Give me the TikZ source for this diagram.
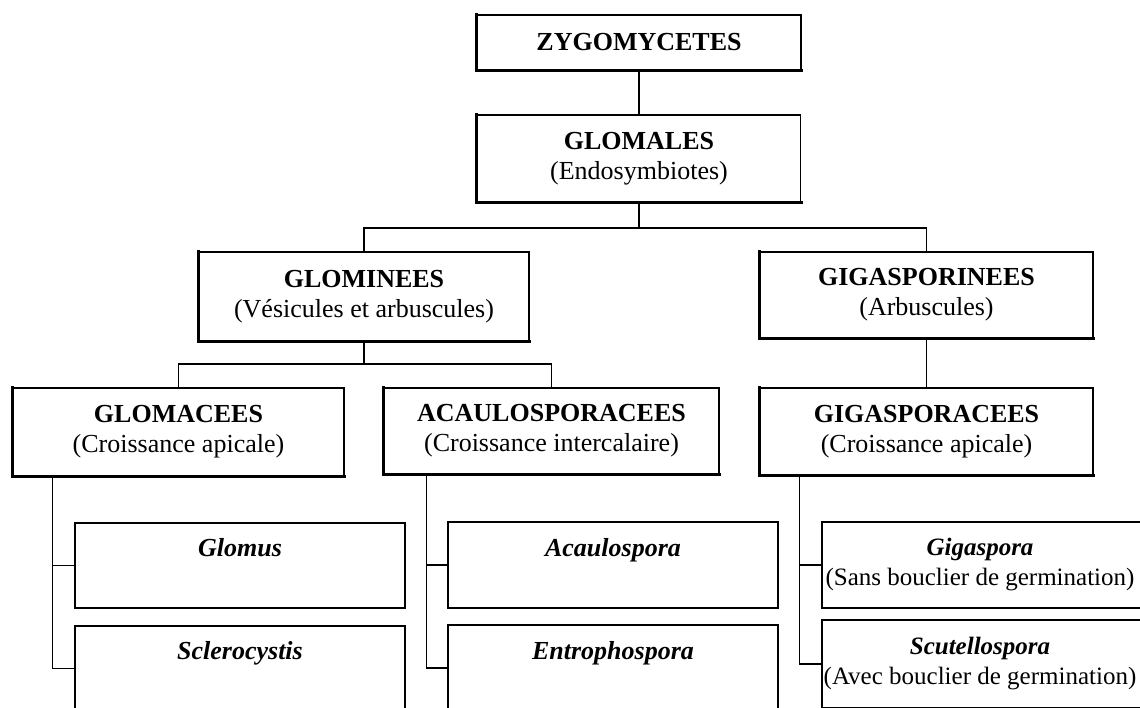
\documentclass[tikz,border=0pt]{standalone}
\usepackage{fontspec}
\setmainfont{Liberation Serif}
\begin{document}
\begin{tikzpicture}[x=1pt,y=-1pt,
  box/.style={draw, line width=1.4pt, rectangle, inner sep=0pt, align=center,
    font=\fontsize{26}{30}\selectfont},
  gbox/.style={draw, line width=1.7pt, rectangle, inner sep=0pt, align=center,
    font=\fontsize{26}{30}\selectfont},
  nbox/.style={gbox, font=\fontsize{25}{30}\selectfont},
  heavy/.style={line width=3.2pt, line cap=rect},
  link/.style={line width=1.4pt}]
\clip (0,0) rectangle (1140,708);
\fill[white] (0,0) rectangle (1140,708);

% higher ranks
\node[box, minimum width=324pt, minimum height=55pt] (zyg) at (639,42.5) {\textbf{ZYGOMYCETES}};
\node[box, minimum width=323pt, minimum height=87pt] (glomales) at (639,158.5) {\textbf{GLOMALES}\\(Endosymbiotes)};
\node[box, minimum width=330pt, minimum height=89pt] (glomin) at (364,296.5) {\textbf{GLOMINEES}\\(Vésicules et arbuscules)};
\node[box, minimum width=333pt, minimum height=86pt] (gigin) at (926.5,295) {\textbf{GIGASPORINEES}\\(Arbuscules)};
\node[box, minimum width=331pt, minimum height=88pt] (glomac) at (178.5,432) {\textbf{GLOMACEES}\\(Croissance apicale)};
\node[box, minimum width=335pt, minimum height=86pt] (acaulo) at (551.5,431) {\textbf{ACAULOSPORACEES}\\(Croissance intercalaire)};
\node[box, minimum width=333pt, minimum height=87pt] (gigac) at (926.5,431.5) {\textbf{GIGASPORACEES}\\(Croissance apicale)};

% genera
\node[gbox, minimum width=330pt, minimum height=85pt] (glomus) at (240,565.5) {\textbf{\textit{Glomus}}\\\phantom{(Xg)}};
\node[gbox, minimum width=330pt, minimum height=85pt] (sclero) at (240,668.5) {\textbf{\textit{Sclerocystis}}\\\phantom{(Xg)}};
\node[gbox, minimum width=330pt, minimum height=86pt] (acauspo) at (613,565) {\textbf{\textit{Acaulospora}}\\\phantom{(Xg)}};
\node[gbox, minimum width=330pt, minimum height=86pt] (entro) at (613,668) {\textbf{\textit{Entrophospora}}\\\phantom{(Xg)}};
\node[nbox, minimum width=340pt, minimum height=86pt] (gigaspo) at (992,565) {\textbf{\textit{Gigaspora}}\hspace*{24pt}\\(Sans bouclier de germination)\hspace*{24pt}};
\node[nbox, minimum width=340pt, minimum height=88pt] (scutel) at (992,664) {\textbf{\textit{Scutellospora}}\hspace*{24pt}\\(Avec bouclier de germination)\hspace*{24pt}};

% heavier left and bottom edges
\foreach \n in {zyg,glomales,glomin,gigin,glomac,acaulo,gigac}
  \draw[heavy] (\n.north west) -- (\n.south west) -- (\n.south east);

% connectors
\coordinate (h1) at (639,228);
\coordinate (h2) at (364,364);
\draw[link] (zyg.south) -- (glomales.north);
\draw[link] (glomales.south) -- (h1);
\draw[link] (glomin.north) -- (glomin.north |- h1) -- (gigin.north |- h1) -- (gigin.north);
\draw[link] (glomin.south) -- (h2);
\draw[link] (glomac.north) -- (glomac.north |- h2) -- (acaulo.north |- h2) -- (acaulo.north);
\draw[link] (gigin.south) -- (gigac.north);

\draw[link] ([xshift=40pt]glomac.south west) |- (glomus.west);
\draw[link] ([xshift=40pt]glomac.south west) |- (sclero.west);
\draw[link] ([xshift=43pt]acaulo.south west) |- (acauspo.west);
\draw[link] ([xshift=43pt]acaulo.south west) |- (entro.west);
\draw[link] ([xshift=40pt]gigac.south west) |- (gigaspo.west);
\draw[link] ([xshift=40pt]gigac.south west) |- (scutel.west);
\end{tikzpicture}
\end{document}
